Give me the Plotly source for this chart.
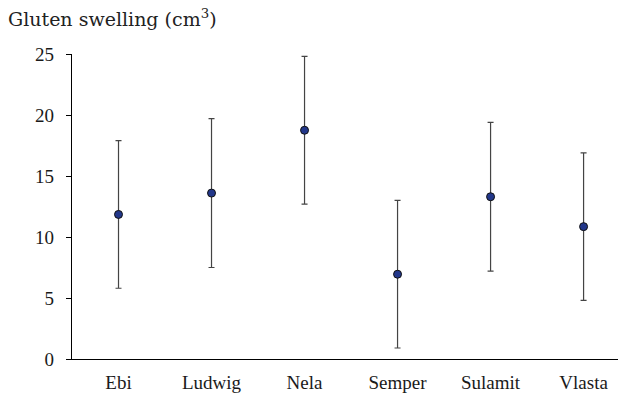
import plotly.graph_objects as go

# Gluten swelling per wheat variety: mean and error bar half-width
varieties = ["Ebi", "Ludwig", "Nela", "Semper", "Sulamit", "Vlasta"]
swelling = [11.85, 13.6, 18.75, 6.95, 13.3, 10.85]
error = [6.05, 6.1, 6.05, 6.05, 6.1, 6.05]
y_ticks = [0, 5, 10, 15, 20, 25]

font_family = "Liberation Serif, Times New Roman, serif"
title_family = "DejaVu Serif, serif"

fig = go.Figure(
    go.Scatter(
        x=varieties,
        y=swelling,
        mode="markers",
        marker=dict(size=8, color="#22378a", line=dict(color="#111111", width=1)),
        error_y=dict(type="data", array=error, visible=True,
                     color="#444444", thickness=1.2, width=3),
        showlegend=False,
    )
)

fig.update_layout(
    width=621,
    height=401,
    margin=dict(l=72, r=3, t=54, b=42),
    paper_bgcolor="white",
    plot_bgcolor="white",
    font=dict(family=font_family, size=19, color="#1a1a1a"),
    annotations=[
        dict(
            text="Gluten swelling (cm<sup>3</sup>)",
            xref="paper", yref="paper",
            x=-0.12, y=1.072,
            xanchor="left", yanchor="bottom",
            showarrow=False,
            font=dict(family=title_family, size=19, color="#222222"),
        )
    ],
)

fig.update_xaxes(
    type="category",
    range=[-0.5, 5.37],
    showline=True, linecolor="black", linewidth=1.2,
    ticks="", showgrid=False, zeroline=False,
    ticklabelstandoff=6,
)
fig.update_yaxes(
    range=[0, 25],
    tickvals=y_ticks,
    showline=True, linecolor="black", linewidth=1.2,
    ticks="outside", ticklen=5, tickcolor="black",
    showgrid=False, zeroline=False,
    ticklabelstandoff=8,
)

fig.write_html("out.html")
